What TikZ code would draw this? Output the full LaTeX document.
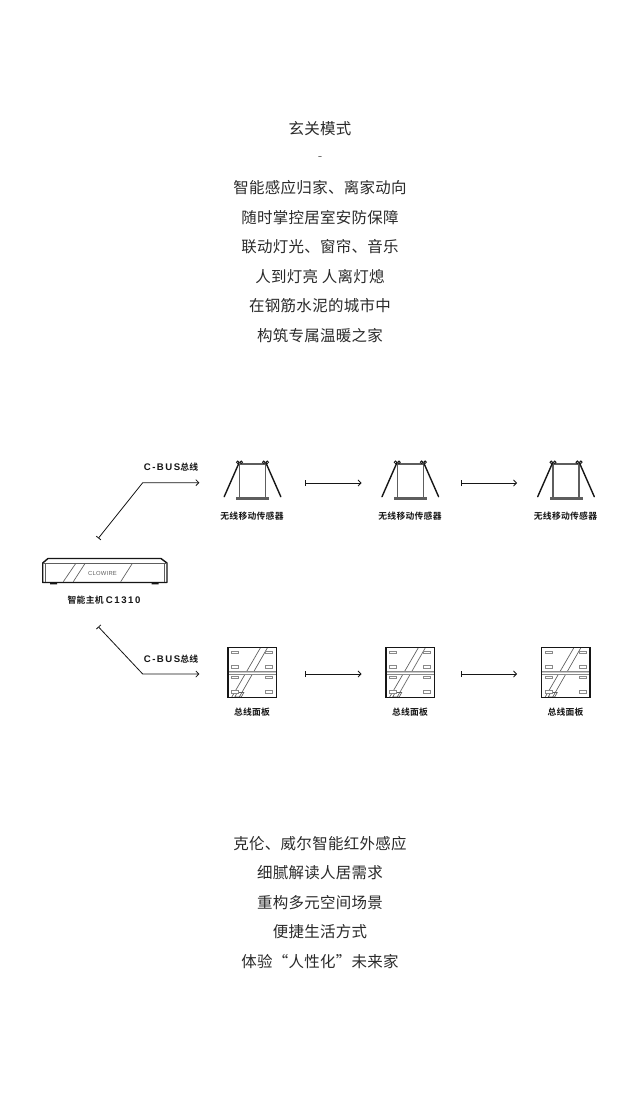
\documentclass[tikz,border=0pt]{standalone}
\usepackage{fontspec}
\usetikzlibrary{arrows.meta}
\newfontfamily\bodycjk[LetterSpace=2]{Noto Sans CJK SC}
\newfontfamily\labelcjk[LetterSpace=3]{Noto Sans CJK SC Bold}
\newfontfamily\labellatin[LetterSpace=16]{Liberation Sans Bold}
\newfontfamily\brandfont[LetterSpace=4]{Liberation Sans}
\newcommand{\lat}[1]{{\labellatin\fontsize{7.2pt}{8pt}\selectfont #1}}
\definecolor{inktext}{HTML}{2A2A2A}
\definecolor{inkline}{HTML}{161616}
\definecolor{inkthin}{HTML}{5E5E5E}
\definecolor{inkslot}{HTML}{8A8A8A}
\tikzset{
  x=0.75pt,y=-0.75pt,
  bodyline/.style={font=\bodycjk\fontsize{11.6pt}{13pt}\selectfont,text=inktext,inner sep=0pt,anchor=center},
  smalllabel/.style={font=\labelcjk\fontsize{6.6pt}{8pt}\selectfont,text=inkline,inner sep=0pt,anchor=center},
  busline/.style={draw=inkline,line width=0.6pt,{Bar[width=4.5pt,length=0.6pt]}-{Straight Barb[length=2.2pt,width=4.6pt,line width=0.6pt]}},
  thick ink/.style={draw=inkline,line width=1.05pt},
  thin ink/.style={draw=inkthin,line width=0.5pt},
  pics/lamp/.style={code={
    % housing with its flared retaining legs
    \draw[thin ink,line width=0.8pt] (-13,-17) -- (-13,17) (13,-17) -- (13,17) (-13,-17) -- (13,-17);
    \fill[inkthin] (-16.5,16) rectangle (16.5,18.6);
    \draw[thick ink,line cap=round] (-13.5,-18) -- (-28.3,15.7) (13.5,-18) -- (28.3,15.7);
    % spring clips
    \fill[inkline] (-14.8,-18.8) circle (1.9) (-11.3,-18.8) circle (1.9) (11.3,-18.8) circle (1.9) (14.8,-18.8) circle (1.9);
    \fill[white] (-14.8,-18.6) circle (0.45) (-11.3,-18.6) circle (0.45) (11.3,-18.6) circle (0.45) (14.8,-18.6) circle (0.45);
  }},
  pics/busboard/.style={code={
    % diagonal trim and its foot
    \draw[thin ink] (-17.5,24.5) -- (-11,24.5) -- (-8.5,20) -- (-15,20) -- cycle;
    \draw[thin ink] (-20.5,24.5) -- (8,-24.5) (-13,24.5) -- (15,-24.5);
    % centre seam
    \fill[white] (-24,-1.4) rectangle (24,1.4);
    \fill[inkslot!45] (-24,-0.9) rectangle (24,0.9);
    \draw[inkslot,line width=0.4pt] (-24,-1.4) -- (24,-1.4) (-24,1.4) -- (24,1.4);
    % mounting slots
    \foreach \yy in {-20.3,-5.6,5,19.6}{
      \draw[inkslot,line width=0.6pt,fill=white] (-20.7,\yy-1.3) rectangle (-13.7,\yy+1.3);
      \draw[inkslot,line width=0.6pt,fill=white] (13.5,\yy-1.3) rectangle (20.5,\yy+1.3);
    }
    % frame
    \draw[thick ink] (-24.3,-24.8) rectangle (24.3,24.8);
  }}
}
\begin{document}
\begin{tikzpicture}
\useasboundingbox (0,0) rectangle (640,1102);
\fill[white] (0,0) rectangle (640,1102);

% upper paragraph
\node[bodyline] (t0) at (320,129) {玄关模式};
\node[bodyline,text=inkthin] (t1) at (320,159) {\fontsize{9.5pt}{10pt}\selectfont -};
\node[bodyline] (t2) at (320,188) {智能感应归家、离家动向};
\node[bodyline] (t3) at (320,218) {随时掌控居室安防保障};
\node[bodyline] (t4) at (320,247) {联动灯光、窗帘、音乐};
\node[bodyline] (t5) at (320,277) {人到灯亮 人离灯熄};
\node[bodyline] (t6) at (320,306) {在钢筋水泥的城市中};
\node[bodyline] (t7) at (320,336) {构筑专属温暖之家};

% lower paragraph
\node[bodyline] (b1) at (320,844) {克伦、威尔智能红外感应};
\node[bodyline] (b2) at (320,873) {细腻解读人居需求};
\node[bodyline] (b3) at (320,903) {重构多元空间场景};
\node[bodyline] (b4) at (320,932) {便捷生活方式};
\node[bodyline] (b5) at (320,962) {体验“人性化”未来家};

% host unit
\draw[thick ink,fill=white,line join=round] (42.7,563) -- (48,558.5) -- (161,558.5) -- (167,563) -- (167,582.5) -- (42.7,582.5) -- cycle;
\draw[thin ink] (42.7,563) -- (167,563) (45.5,563) -- (45.5,582) (164.5,563) -- (164.5,582);
\draw[thin ink] (63.3,581.7) -- (75.7,563.5) (73.3,581.7) -- (85,563.5) (120.7,581.7) -- (132.3,563.5);
\fill[inkline] (50,582.5) rectangle (57,584.3) (151.5,582.5) rectangle (158.5,584.3);
\node[font=\brandfont\fontsize{4.4pt}{5pt}\selectfont,text=inkthin,inner sep=0pt] (brand) at (102.5,573) {CLOWIRE};
\node[smalllabel] (hostlabel) at (104,600) {智能主机 \lat{C1310}};

% ceiling sensors
\pic at (252.5,481) {lamp};
\pic at (410.3,481) {lamp};
\pic at (566,481) {lamp};
\node[smalllabel] (s1) at (252,516) {无线移动传感器};
\node[smalllabel] (s2) at (410,516) {无线移动传感器};
\node[smalllabel] (s3) at (565.5,516) {无线移动传感器};

% bus panels
\pic at (252.3,672.5) {busboard};
\pic at (410.2,672.5) {busboard};
\pic at (565.7,672.5) {busboard};
\node[smalllabel] (p1) at (252,712) {总线面板};
\node[smalllabel] (p2) at (410,712) {总线面板};
\node[smalllabel] (p3) at (565.5,712) {总线面板};

% bus labels
\node[smalllabel] (busa) at (171,467.5) {\lat{C-BUS}总线};
\node[smalllabel] (busb) at (171,659.5) {\lat{C-BUS}总线};

% connector end points
\coordinate (hostup) at (98.3,538.3);
\coordinate (kneeup) at (142.7,482.7);
\coordinate (endup) at (199.3,482.7);
\coordinate (hostdown) at (98.3,626.7);
\coordinate (kneedown) at (142.7,674);
\coordinate (enddown) at (199.3,674);
\coordinate (a1) at (305,483);
\coordinate (a2) at (361.5,483);
\coordinate (a3) at (460.5,483);
\coordinate (a4) at (517,483);
\coordinate (c1) at (305,674);
\coordinate (c2) at (361.5,674);
\coordinate (c3) at (460.5,674);
\coordinate (c4) at (517,674);

\draw[busline,line join=round] (hostup) -- (kneeup) -- (endup);
\draw[busline,line join=round] (hostdown) -- (kneedown) -- (enddown);
\draw[busline] (a1) -- (a2);
\draw[busline] (a3) -- (a4);
\draw[busline] (c1) -- (c2);
\draw[busline] (c3) -- (c4);
\end{tikzpicture}
\end{document}
